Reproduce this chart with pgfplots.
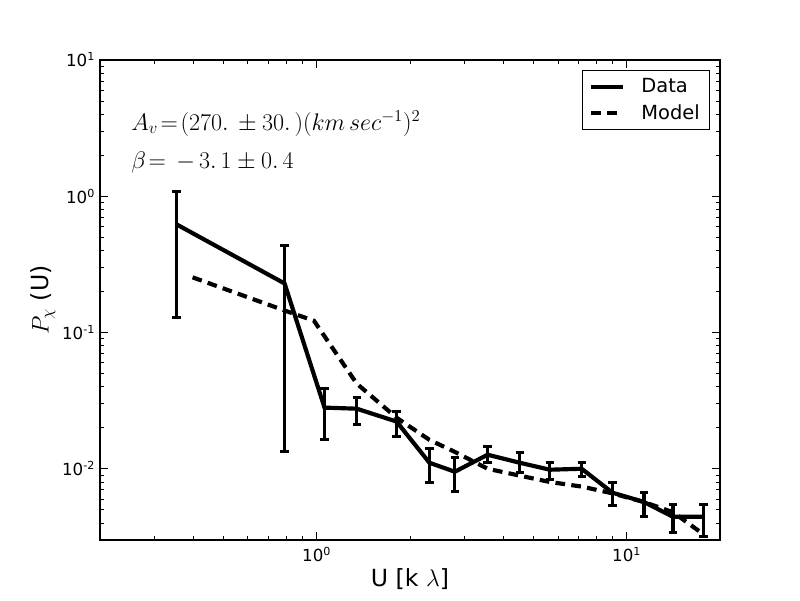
\documentclass[border=0pt]{standalone}
\usepackage{pgfplots}
\pgfplotsset{compat=1.18}
\usepackage{fontspec}
\setmainfont{DejaVu Sans}
\pgfplotstableread{
x y ep em
0.353 0.622 0.466 0.493
0.788 0.229 0.207 0.2157
1.06 0.0281 0.0107 0.0118
1.346 0.0276 0.0057 0.0065
1.81 0.0222 0.0040 0.0050
2.31 0.01107 0.00293 0.00319
2.79 0.00951 0.00254 0.00273
3.56 0.01268 0.00184 0.00161
4.52 0.01107 0.00205 0.00172
5.65 0.00984 0.00123 0.00154
7.16 0.0100 0.00107 0.00127
9.0 0.00667 0.00121 0.00132
11.36 0.00571 0.00096 0.00127
14.1 0.00444 0.0010 0.00106
17.7 0.00444 0.0010 0.00128
}\datatable
\pgfplotstableread{
x y
0.398 0.254
0.788 0.145
0.98 0.122
1.346 0.0422
1.81 0.0237
2.31 0.0163
2.79 0.0133
3.56 0.0100
4.52 0.0089
5.65 0.0080
7.16 0.0074
9.0 0.0066
11.36 0.0057
14.1 0.0048
17.7 0.0033
}\modeltable
\begin{document}
\begin{tikzpicture}
\begin{loglogaxis}[
  scale only axis, width=446.4pt, height=345.6pt,
  xmin=0.2, xmax=20, ymin=0.003, ymax=10,
  axis line style={line width=0.9pt},
  xtick={1,10}, xticklabels={10\textsuperscript{0},10\textsuperscript{1}},
  ytick={0.01,0.1,1,10},
  yticklabels={10\textsuperscript{-2},10\textsuperscript{-1},10\textsuperscript{0},10\textsuperscript{1}},
  minor xtick={0.2,0.3,0.4,0.5,0.6,0.7,0.8,0.9,2,3,4,5,6,7,8,9,20},
  minor ytick={0.003,0.004,0.005,0.006,0.007,0.008,0.009,0.02,0.03,0.04,0.05,0.06,0.07,0.08,0.09,0.2,0.3,0.4,0.5,0.6,0.7,0.8,0.9,2,3,4,5,6,7,8,9},
  tick align=inside,
  major tick length=6pt, minor tick length=3pt,
  every tick/.style={black, line width=0.6pt},
  tick label style={font=\fontsize{12}{14}\selectfont},
  xticklabel style={yshift=-2pt},
  xlabel={U [k $\lambda$]},
  ylabel={$P_\chi$ (U)},
  label style={font=\fontsize{17}{20}\selectfont},
  xlabel style={yshift=2pt},
  ylabel style={yshift=-2pt},
  legend style={at={(rel axis cs:1,1)}, xshift=-7.2pt, yshift=-7.2pt, anchor=north east,
    draw=black, line width=0.7pt, font=\fontsize{14}{17}\selectfont,
    inner xsep=5pt, inner ysep=4pt, row sep=3pt, column sep=10pt},
  legend cell align=left,
  legend image code/.code={\draw[#1] (0cm,0cm) -- (0.8cm,0cm);},
]
\addplot[black, line width=3pt, line join=miter,
  error bars/.cd, y dir=both, y explicit,
  error bar style={line width=2.4pt},
  error mark options={rotate=90, line width=2.2pt, mark size=3pt}]
  table[x=x, y=y, y error plus=ep, y error minus=em]{\datatable};
\addlegendentry{Data}
\addplot[black, line width=3pt, dash pattern=on 7pt off 4.5pt]
  table[x=x, y=y]{\modeltable};
\addlegendentry{Model}
\node[anchor=west, inner sep=0pt, font=\fontsize{17.8}{21}\selectfont] at (rel axis cs:0.05,0.868)
  {$A_v\!=\!(270.\,\pm30.\,)(km\,sec^{-1})^2$};
\node[anchor=west, inner sep=0pt, font=\fontsize{17.8}{21}\selectfont] at (rel axis cs:0.05,0.786)
  {$\beta\!=\,-\,3.\,1\pm0.\,4$};
\end{loglogaxis}
\pgfresetboundingbox
\path ([xshift=-72pt,yshift=-43.2pt]current axis.south west) rectangle ([xshift=57.6pt,yshift=43.2pt]current axis.north east);
\end{tikzpicture}
\end{document}
